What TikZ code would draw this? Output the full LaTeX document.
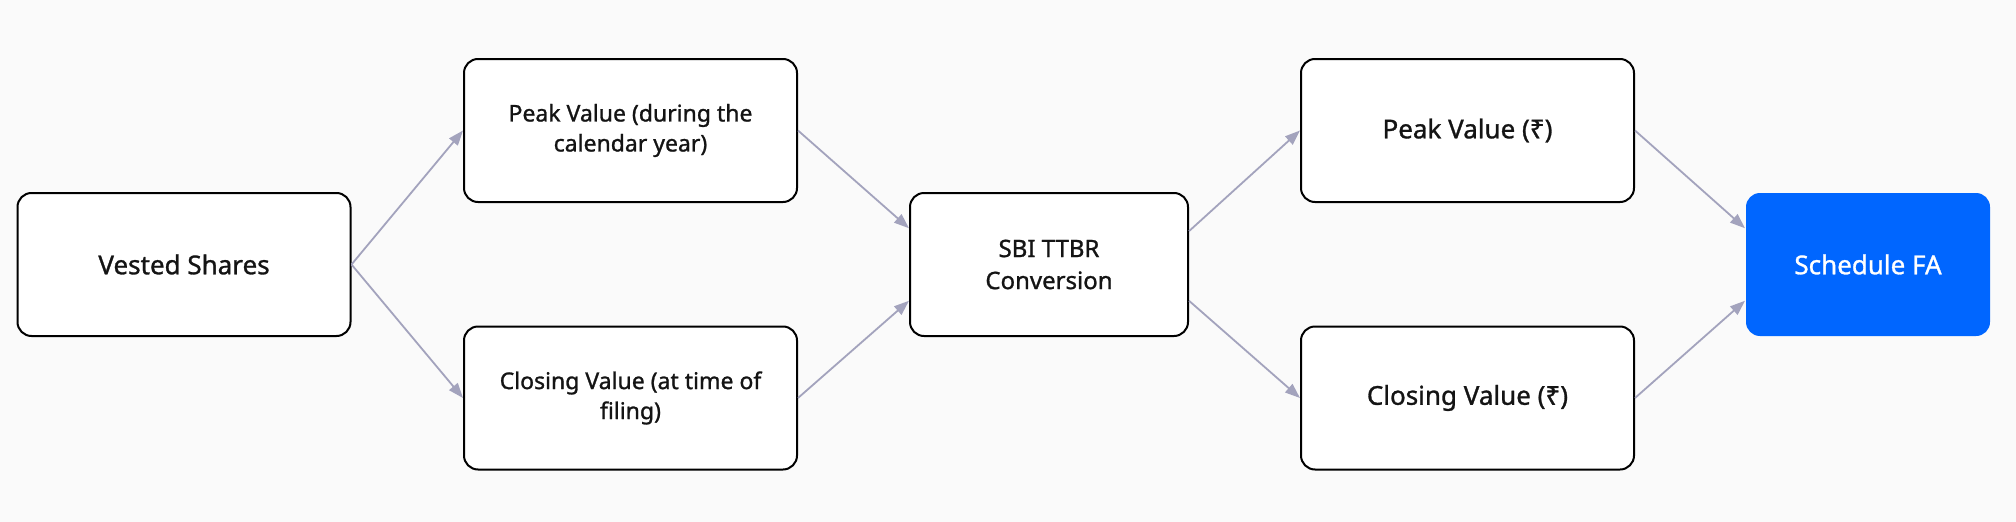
\documentclass[tikz,border=0pt]{standalone}
\usepackage{fontspec}
\setmainfont{Noto Sans}[FakeBold=1.1]
\usetikzlibrary{calc,arrows.meta}
\definecolor{bgc}{HTML}{FAFAFA}
\definecolor{edgec}{HTML}{A3A3BD}
\definecolor{txtc}{HTML}{141414}
\definecolor{bluec}{HTML}{0066FF}
\tikzset{
  box/.style={draw=black, fill=white, line width=2pt, rounded corners=14pt,
    minimum width=333pt, minimum height=143pt, align=center, text=txtc,
    inner sep=0pt},
  big/.style={font=\fontsize{26}{32}\selectfont\bfseries},
  small/.style={font=\fontsize{23}{30}\selectfont\bfseries},
  mid/.style={font=\fontsize{24}{32}\selectfont\bfseries},
  flow/.style={draw=edgec, line width=1.8pt,
    -{Triangle[length=15pt,width=11pt]}},
}
\begin{document}
\begin{tikzpicture}[x=1pt,y=-1pt]
\fill[bgc] (0,0) rectangle (2016,522);
\useasboundingbox (0,0) rectangle (2016,522);
\node[box,big] (vest) at (184,264.5) {Vested Shares};
\node[box,small] (peak1) at (630.5,130.5) {Peak Value (during the\\calendar year)};
\node[box,small] (close1) at (630.5,398) {Closing Value (at time of\\filing)};
\node[box,mid,minimum width=278pt] (sbi) at (1049,264.5) {SBI TTBR\\Conversion};
\node[box,big] (peak2) at (1467.5,130.5) {Peak Value (₹)};
\node[box,big] (close2) at (1467.5,398) {Closing Value (₹)};
\node[box,big,draw=none,fill=bluec,text=white,minimum width=244pt] (sched) at (1868,264.5) {Schedule FA};
\draw[flow] (vest.east) -- (peak1.west);
\draw[flow] (vest.east) -- (close1.west);
\draw[flow] (peak1.east) -- ($(sbi.north west)!0.25!(sbi.south west)$);
\draw[flow] (close1.east) -- ($(sbi.north west)!0.75!(sbi.south west)$);
\draw[flow] ($(sbi.north east)!0.27!(sbi.south east)$) -- (peak2.west);
\draw[flow] ($(sbi.north east)!0.75!(sbi.south east)$) -- (close2.west);
\draw[flow] (peak2.east) -- ($(sched.north west)!0.25!(sched.south west)$);
\draw[flow] (close2.east) -- ($(sched.north west)!0.75!(sched.south west)$);
\end{tikzpicture}
\end{document}
